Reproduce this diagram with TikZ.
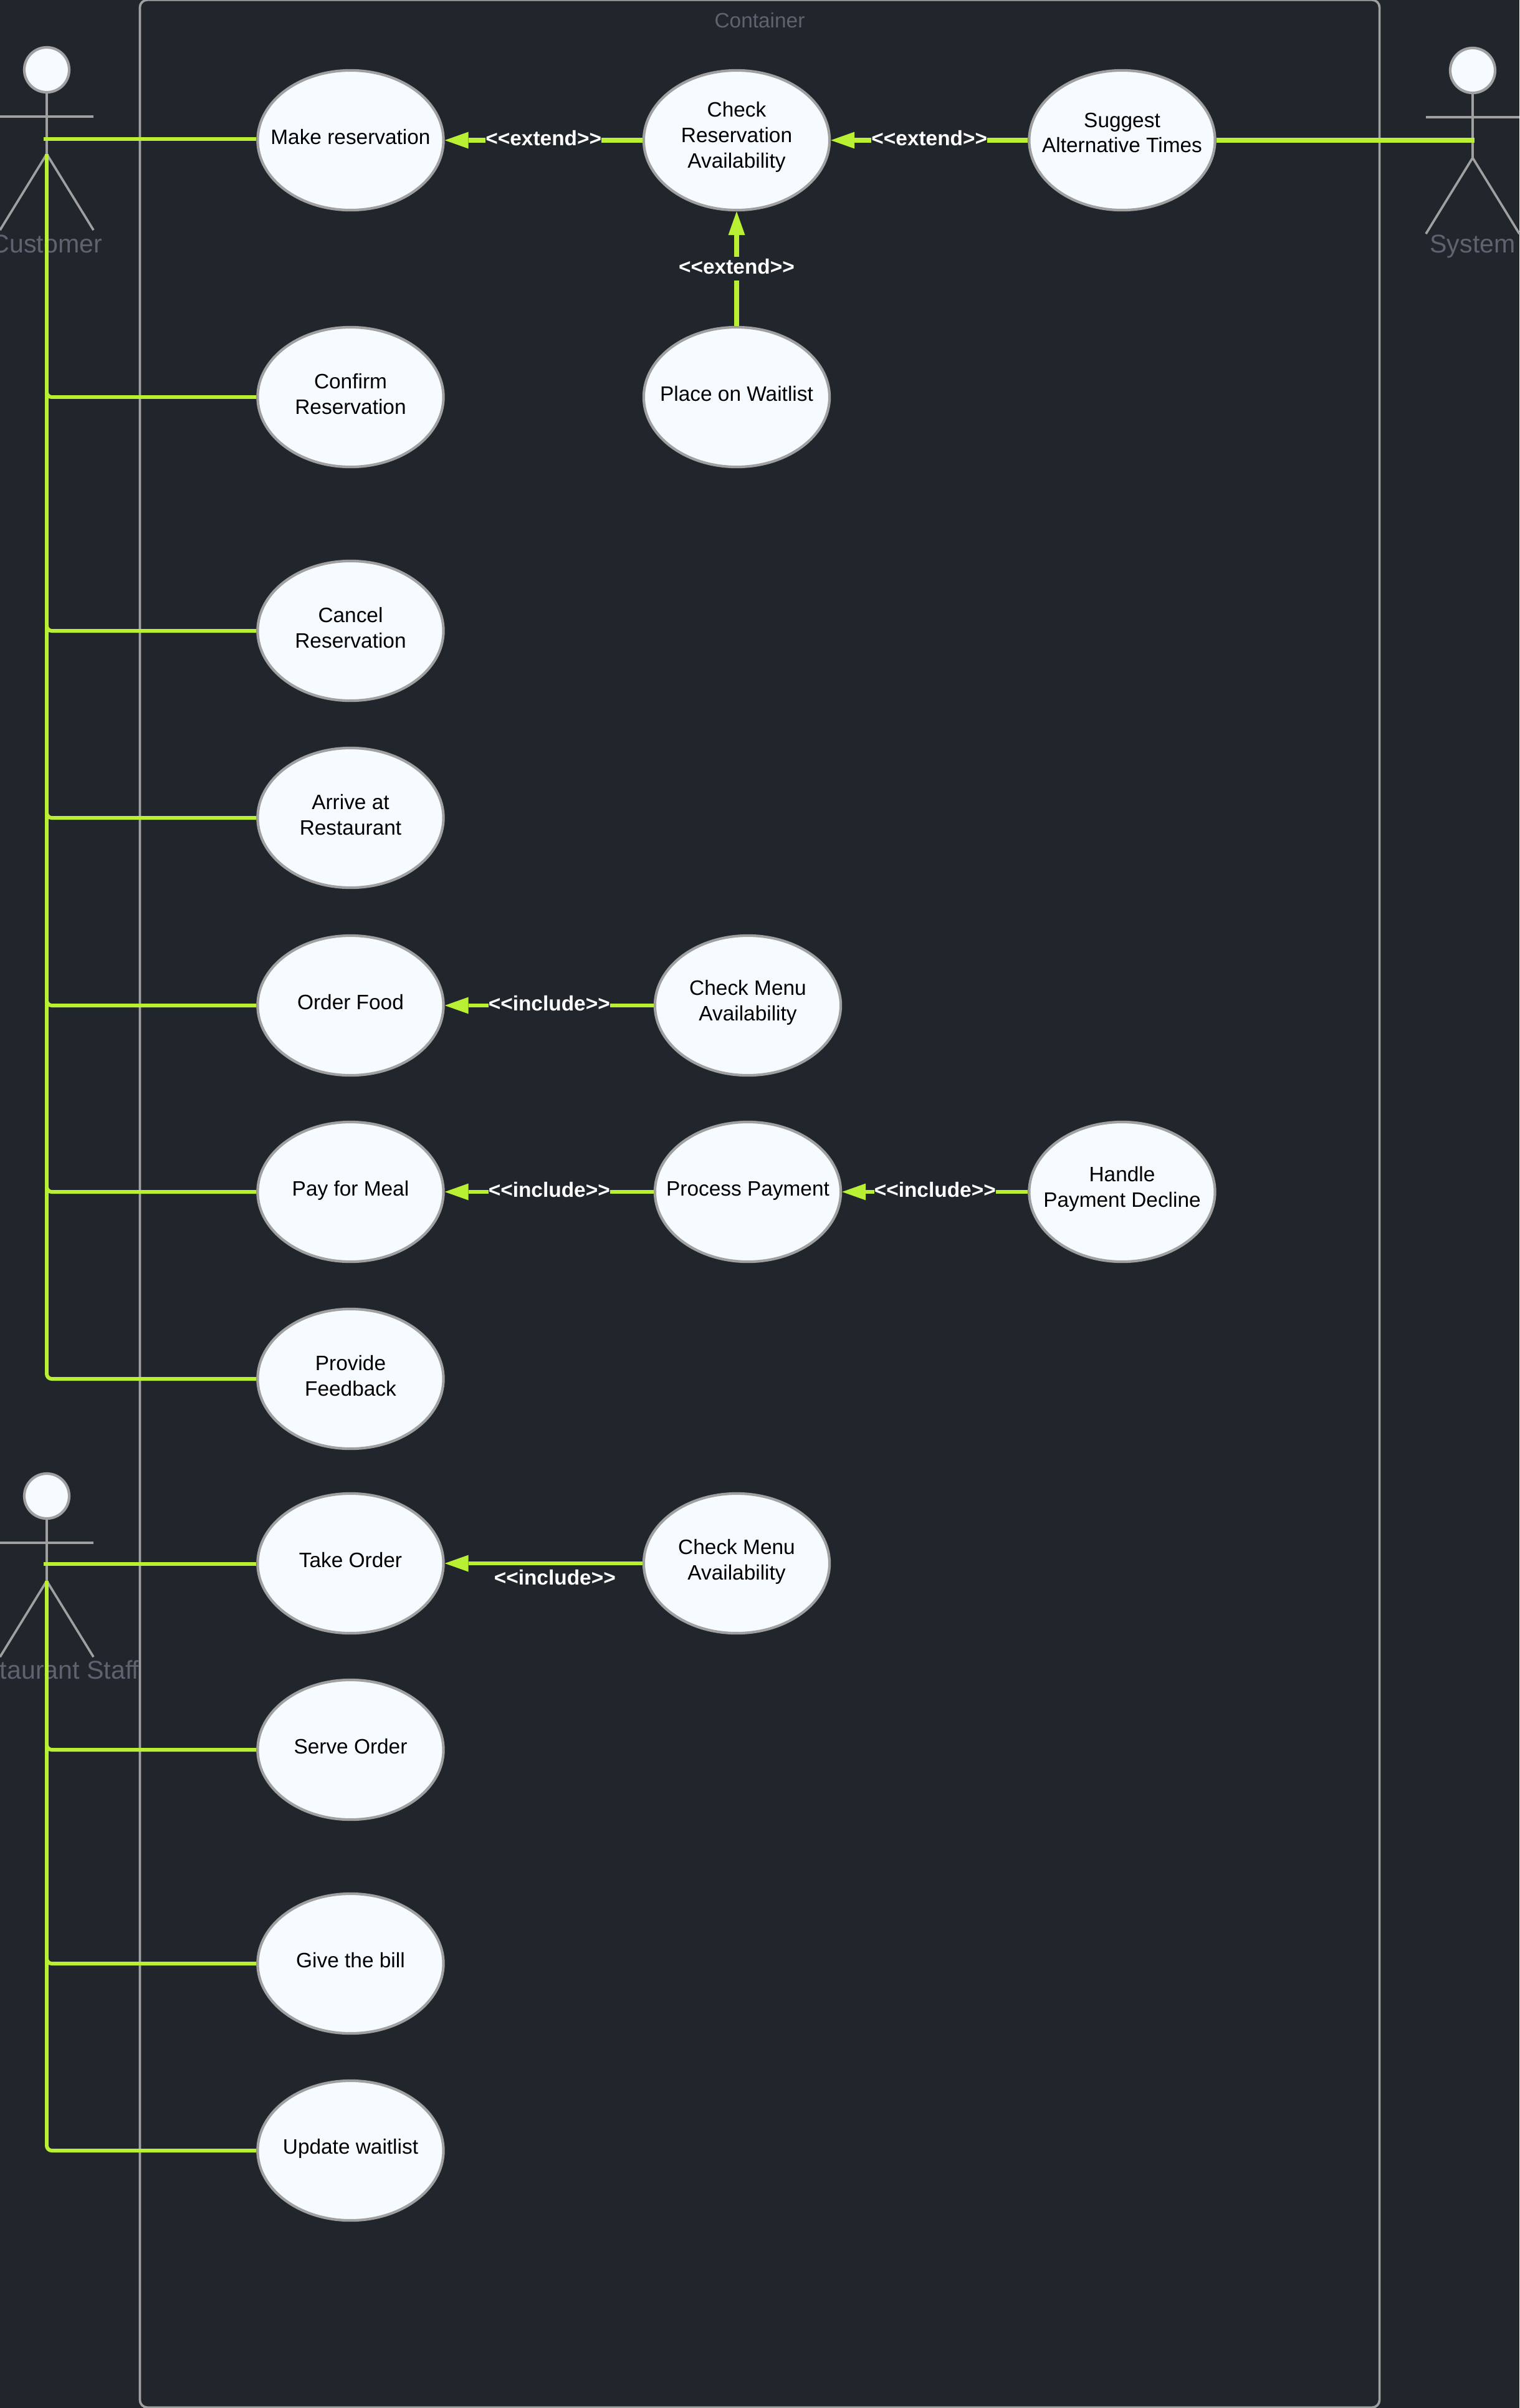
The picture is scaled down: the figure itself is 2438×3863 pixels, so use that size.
\documentclass[tikz,border=0pt]{standalone}
\usepackage{fontspec}
\setmainfont{Liberation Sans}
\usepackage{xcolor}
\usetikzlibrary{arrows.meta,shapes.geometric,calc}
\definecolor{bgcol}{HTML}{21262D}
\definecolor{limecol}{HTML}{B9F033}
\definecolor{edgecol}{HTML}{A0A0A0}
\definecolor{namecol}{HTML}{5F636F}
\definecolor{usefill}{HTML}{F6FBFF}
\tikzstyle{usecase}   = [ellipse, minimum width=2.98cm, minimum height=2.24cm, inner sep=0pt, draw=edgecol, line width=1.2pt, fill=usefill]
\tikzstyle{usetext}   = [font=\fontsize{9.5}{11.6}\selectfont, align=center, text=black, yshift=0.05cm, inner sep=0pt]
\tikzstyle{head}      = [circle, minimum size=0.72cm, inner sep=0pt, draw=edgecol, line width=1.2pt, fill=usefill]
\tikzstyle{actorline} = [edgecol, line width=1.05pt]
\tikzstyle{actorname} = [font=\fontsize{11.7}{14}\selectfont, text=namecol, inner sep=0pt]
\tikzstyle{boundary}  = [rectangle, draw=edgecol, line width=1.05pt, rounded corners=0.12cm, minimum width=19.88cm, minimum height=38.6cm, inner sep=0pt]
\tikzstyle{link}      = [limecol, line width=1.7pt, rounded corners=0.08cm]
\tikzstyle{arrow}     = [limecol, line width=1.7pt, -{Triangle[length=0.38cm,width=0.27cm,line width=0pt]}]
\tikzstyle{stereo}    = [font=\fontsize{9.5}{11.6}\selectfont\bfseries, text=white, fill=bgcol, inner xsep=0pt, inner ysep=0pt, text height=0.27cm, text depth=0.11cm]
\def\drawactor#1#2#3#4#5#6{
	\node[head] (#1head) at (#2,#3) {};
	\draw[actorline] (#1head.south) -- ++(0,#5) coordinate (#1hip) -- ++(-75,122);
	\draw[actorline] (#1hip) -- ++(75,122);
	\draw[actorline] ($(#1head.south)+(-75,37)$) -- ++(150,0);
	\node[actorname] (#1name) at (#2,#6) {#4};
}
\begin{document}
\begin{tikzpicture}[x=0.01cm,y=-0.01cm]
	\fill[bgcol] (0,0) rectangle (2438,3863);
	\useasboundingbox (0,0) rectangle (2438,3863);
	\node[boundary] (system) at (1219,1931) {};
	\node[font=\fontsize{9.5}{11.6}\selectfont, text=namecol, inner sep=0pt] (systemtitle) at (1219,33) {Container};
	\drawactor{customer}{75}{112}{Customer}{97}{391}
	\drawactor{staff}{75}{2400}{Restaurant Staff}{98}{2679}
	\drawactor{engine}{2363}{113}{System}{102}{395}
	\foreach \nm/\xx/\yy/\off/\txt in {
			makeres/562.5/225/0/{Make reservation},
			confirm/562.5/637/0/{Confirm\\Reservation},
			cancel/562.5/1012/0/{Cancel\\Reservation},
			arrive/562.5/1312/0/{Arrive at\\Restaurant},
			orderfood/562.5/1613/0/{Order Food},
			paymeal/562.5/1912/-3/{Pay for Meal},
			feedback/562.5/2212/0/{Provide\\Feedback},
			takeorder/562.5/2508/0/{Take Order},
			serve/562.5/2807/0/{Serve Order},
			bill/562.5/3150/0/{Give the bill},
			waitlist/562.5/3450/-2/{Update waitlist},
			checkres/1182/225/0/{Check\\Reservation\\Availability},
			place/1182/637/0/{Place on Waitlist},
			suggest/1800.5/225/7/{Suggest\\Alternative Times},
			menua/1200/1613/0/{Check Menu\\Availability},
			process/1200/1912/-3/{Process Payment},
			decline/1800.5/1912/0/{Handle\\Payment Decline},
			menub/1182/2508/-2/{Check Menu\\Availability}}{
			\node[usecase,label={[usetext,yshift=\off*0.01cm]center:\txt}] (\nm) at (\xx,\yy) {};
		}
	\coordinate (customerarm) at (70,223);
	\coordinate (staffarm) at (70,2509);
	\coordinate (enginearm) at (2366,225);
	\draw[link] (customerarm) -- (makeres.west |- customerarm);
	\draw[link] (staffarm) -- (takeorder.west |- staffarm);
	\draw[link,line width=2pt] (enginearm) -- (suggest.east);
	\foreach \nm in {confirm,cancel,arrive,orderfood,paymeal,feedback}{
			\draw[link] (customerhip) |- (\nm.west);
		}
	\foreach \nm in {serve,bill,waitlist}{
			\draw[link] (staffhip) |- (\nm.west);
		}
	\draw[arrow,line width=2pt] (checkres.west) -- node[stereo,midway] (extenda) {<{}<extend>{}>} (makeres.east);
	\draw[arrow,line width=2pt] (suggest.west) -- node[stereo,midway] (extendb) {<{}<extend>{}>} (checkres.east);
	\draw[arrow,line width=2pt] (place.north) -- node[stereo,midway] (extendc) {<{}<extend>{}>} (checkres.south);
	\draw[arrow] (menua.west) -- node[stereo,midway] (includea) {<{}<include>{}>} (orderfood.east);
	\draw[arrow] (process.west) -- node[stereo,midway] (includeb) {<{}<include>{}>} (paymeal.east);
	\draw[arrow] (decline.west) -- node[stereo,midway] (includec) {<{}<include>{}>} (process.east);
	\draw[arrow] (menub.west) -- node[stereo,midway,xshift=0.18cm,yshift=-0.26cm] (included) {<{}<include>{}>} (takeorder.east);
\end{tikzpicture}
\end{document}
